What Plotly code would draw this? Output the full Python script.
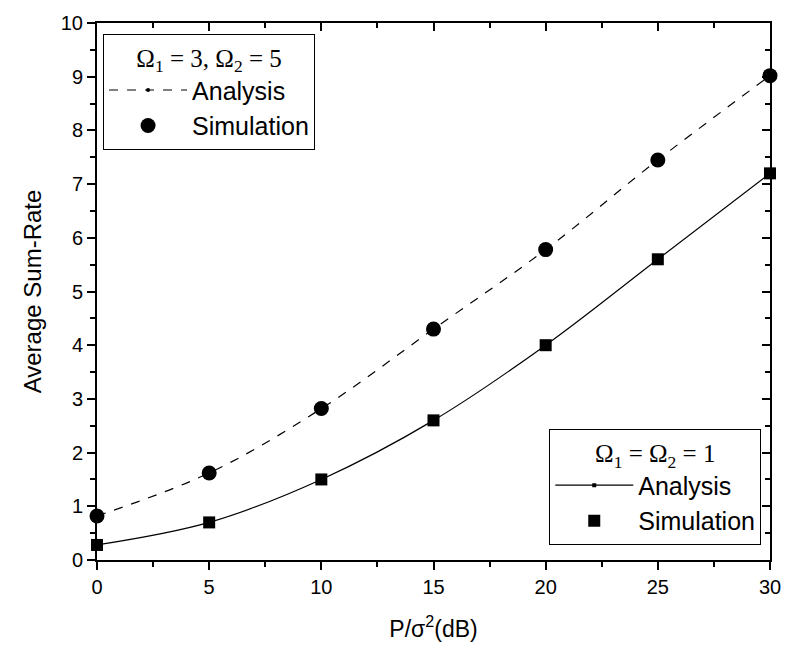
import plotly.graph_objects as go

snr_db = [0, 5, 10, 15, 20, 25, 30]
# Omega1=3, Omega2=5
ana_35 = [0.82, 1.62, 2.82, 4.30, 5.78, 7.45, 9.02]
sim_35 = [0.82, 1.62, 2.82, 4.30, 5.78, 7.45, 9.02]
# Omega1=Omega2=1
ana_11 = [0.28, 0.70, 1.50, 2.60, 4.00, 5.60, 7.20]
sim_11 = [0.28, 0.70, 1.50, 2.60, 4.00, 5.60, 7.20]

x_ticks = [0, 5, 10, 15, 20, 25, 30]
y_ticks = [0, 1, 2, 3, 4, 5, 6, 7, 8, 9, 10]

ARIAL = "Liberation Sans, Arial, sans-serif"
TIMES = "Liberation Serif, Times New Roman, serif"

fig = go.Figure()

fig.add_trace(go.Scatter(x=snr_db, y=ana_35, mode="lines+markers", name="Analysis",
                         line=dict(color="black", width=1.2, dash="dash", shape="spline"),
                         marker=dict(symbol="circle", size=4, color="black"),
                         legend="legend"))
fig.add_trace(go.Scatter(x=snr_db, y=sim_35, mode="markers", name="Simulation",
                         marker=dict(symbol="circle", size=15, color="black"),
                         legend="legend", cliponaxis=False))
fig.add_trace(go.Scatter(x=snr_db, y=ana_11, mode="lines+markers", name="Analysis",
                         line=dict(color="black", width=1.2, shape="spline"),
                         marker=dict(symbol="square", size=4, color="black"),
                         legend="legend2"))
fig.add_trace(go.Scatter(x=snr_db, y=sim_11, mode="markers", name="Simulation",
                         marker=dict(symbol="square", size=12, color="black"),
                         legend="legend2", cliponaxis=False))
# invisible trace to hold the mirrored top/right axes
fig.add_trace(go.Scatter(x=[0], y=[0], xaxis="x2", yaxis="y2", mode="markers",
                         marker=dict(opacity=0), showlegend=False, hoverinfo="skip"))

fig.update_layout(
    width=793, height=650,
    margin=dict(l=97, r=16, t=19, b=89),
    plot_bgcolor="white", paper_bgcolor="white",
    font=dict(family=ARIAL, color="black", size=20),
    xaxis=dict(range=[0, 30], tickvals=x_ticks, ticks="outside", ticklen=8, tickwidth=1.5,
               tickcolor="black", showline=True, linecolor="black", linewidth=2,
               showgrid=False, zeroline=False,
               minor=dict(dtick=2.5, ticks="outside", ticklen=5, tickwidth=1.5, tickcolor="black"),
               tickfont=dict(size=20, family=ARIAL),
               title=dict(text="P/σ<sup>2</sup>(dB)", font=dict(size=23, family=ARIAL), standoff=24)),
    yaxis=dict(range=[0, 10], tickvals=y_ticks, ticks="outside", ticklen=8, tickwidth=1.5,
               tickcolor="black", showline=True, linecolor="black", linewidth=2,
               showgrid=False, zeroline=False,
               minor=dict(dtick=0.5, ticks="outside", ticklen=5, tickwidth=1.5, tickcolor="black"),
               tickfont=dict(size=20, family=ARIAL),
               title=dict(text="Average Sum-Rate", font=dict(size=24, family=ARIAL), standoff=12)),
    xaxis2=dict(range=[0, 30], overlaying="x", side="top", anchor="y2", tickvals=x_ticks,
                ticks="inside", ticklen=8, tickwidth=1.5, tickcolor="black",
                showticklabels=False, showline=True, linecolor="black", linewidth=2,
                showgrid=False, zeroline=False,
                minor=dict(dtick=2.5, ticks="inside", ticklen=5, tickwidth=1.5, tickcolor="black")),
    yaxis2=dict(range=[0, 10], overlaying="y", side="right", anchor="x2", tickvals=y_ticks,
                ticks="inside", ticklen=8, tickwidth=1.5, tickcolor="black",
                showticklabels=False, showline=True, linecolor="black", linewidth=2,
                showgrid=False, zeroline=False,
                minor=dict(dtick=0.5, ticks="inside", ticklen=5, tickwidth=1.5, tickcolor="black")),
    legend=dict(x=0.009, y=0.98, xanchor="left", yanchor="top",
                bgcolor="white", bordercolor="black", borderwidth=1,
                font=dict(size=25, family=ARIAL), itemwidth=78, tracegroupgap=0,
                title=dict(text="Ω<sub>1</sub> = 3, Ω<sub>2</sub> = 5", side="top center",
                           font=dict(size=25, family=TIMES))),
    legend2=dict(x=0.987, y=0.028, xanchor="right", yanchor="bottom",
                 bgcolor="white", bordercolor="black", borderwidth=1,
                 font=dict(size=25, family=ARIAL), itemwidth=78, tracegroupgap=0,
                 title=dict(text="Ω<sub>1</sub> = Ω<sub>2</sub> = 1", side="top center",
                            font=dict(size=25, family=TIMES))),
)

fig.write_html("out.html")
